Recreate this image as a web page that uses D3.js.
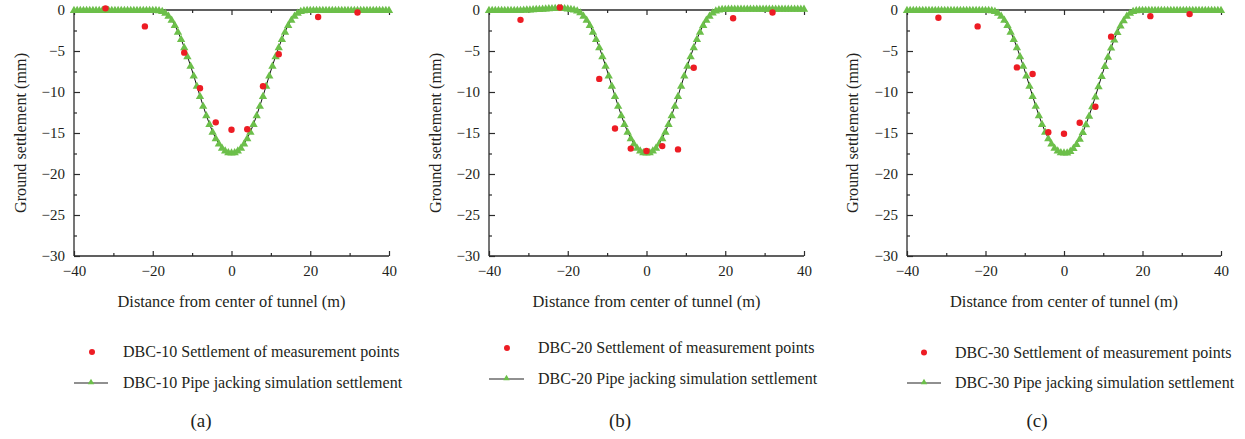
<!DOCTYPE html>
<html><head><meta charset="utf-8">
<script src="https://cdn.jsdelivr.net/npm/d3@7/dist/d3.min.js"></script>
<style>
html,body{margin:0;padding:0;background:#fff;}
svg{display:block;}
text{font-family:"Liberation Serif","Times New Roman",serif;fill:#231f20;}
</style></head>
<body>
<svg id="chart" width="1245" height="439"></svg>
<script>
// ---- data ----
const simX = [-40,-39.2,-38.4,-37.6,-36.8,-36,-35.2,-34.4,-33.6,-32.8,-32,-31.2,-30.4,-29.6,-28.8,-28,-27.2,-26.4,-25.6,-24.8,-24,-23.2,-22.4,-21.6,-20.8,-20,
  -19.2,-18.4,-17.6,-16.8,-16,-15.2,-14.4,-13.6,-12.8,-12,-11.2,-10.4,-9.6,-8.8,-8,-7.2,-6.4,-5.6,-4.8,-4,-3.2,-2.4,-1.6,-0.8,0,
  0.8,1.6,2.4,3.2,4,4.8,5.6,6.4,7.2,8,8.8,9.6,10.4,11.2,12,12.8,13.6,14.4,15.2,16,16.8,17.6,18.4,19.2,
  20,20.8,21.6,22.4,23.2,24,24.8,25.6,26.4,27.2,28,28.8,29.6,30.4,31.2,32,32.8,33.6,34.4,35.2,36,36.8,37.6,38.4,39.2,40];
const sim10 = [0,0,0,0,0,0,0,0,0,0,0,0,0,0,0,0,0,0,0,0,0,0,0,0,0,0,
  0,-0.03,-0.12,-0.35,-0.7,-1.2,-1.85,-2.65,-3.55,-4.55,-5.65,-6.8,-8.0,-9.25,-10.5,-11.7,-12.85,-13.9,-14.85,-15.65,-16.3,-16.8,-17.15,-17.35,-17.4,
  -17.35,-17.15,-16.8,-16.3,-15.65,-14.85,-13.9,-12.85,-11.7,-10.5,-9.25,-8.0,-6.8,-5.65,-4.55,-3.55,-2.65,-1.85,-1.2,-0.7,-0.35,-0.12,-0.03,0,
  0,0,0,0,0,0,0,0,0,0,0,0,0,0,0,0,0,0,0,0,0,0,0,0,0,0];
const sim20 = [0,0,0,0,0,0,0,0,0,0,0,0.02,0.04,0.06,0.08,0.1,0.12,0.15,0.18,0.2,0.22,0.24,0.25,0.25,0.22,0.18,
  0.12,0.04,-0.08,-0.3,-0.7,-1.2,-1.85,-2.65,-3.55,-4.55,-5.65,-6.8,-8.0,-9.25,-10.5,-11.7,-12.85,-13.9,-14.85,-15.65,-16.3,-16.8,-17.15,-17.35,-17.4,
  -17.35,-17.15,-16.8,-16.3,-15.65,-14.85,-13.9,-12.85,-11.7,-10.5,-9.25,-8.0,-6.8,-5.65,-4.55,-3.55,-2.65,-1.85,-1.2,-0.7,-0.32,-0.08,0.04,0.1,
  0.12,0.14,0.15,0.15,0.15,0.15,0.15,0.15,0.15,0.15,0.15,0.15,0.15,0.15,0.15,0.15,0.15,0.15,0.15,0.15,0.15,0.15,0.15,0.15,0.15,0.15];
const sim30 = [0,0,0,0,0,0,0,0,0,0,0,0,0,0,0,0,0,0,0,0,0,0,0,0,0,0,
  0,-0.03,-0.12,-0.35,-0.7,-1.2,-1.85,-2.65,-3.55,-4.55,-5.65,-6.8,-8.0,-9.25,-10.5,-11.7,-12.85,-13.9,-14.85,-15.65,-16.3,-16.8,-17.15,-17.35,-17.4,
  -17.4,-17.2,-16.85,-16.35,-15.7,-14.9,-13.95,-12.9,-11.75,-10.55,-9.3,-8.05,-6.85,-5.7,-4.6,-3.6,-2.7,-1.9,-1.25,-0.72,-0.36,-0.12,-0.03,0,
  0,0,0,0,0,0,0,0,0,0,0,0,0,0,0,0,0,0,0,0,0,0,0,0,0,0];
const measX = [-32,-22,-12,-8,-4,0,4,8,12,22,32];
const meas10 = [0.2,-2.0,-5.2,-9.55,-13.7,-14.6,-14.55,-9.3,-5.4,-0.85,-0.3];
const meas20 = [-1.2,0.3,-8.4,-14.45,-16.9,-17.2,-16.6,-17.0,-7.05,-1.0,-0.3];
const meas30 = [-0.95,-2.0,-7.0,-7.8,-14.9,-15.1,-13.75,-11.8,-3.25,-0.75,-0.5];
const xTickLabels = [-40,-20,0,20,40];
const xMinorTicks = [-30,-10,10,30];
const yTickLabels = [0,-5,-10,-15,-20,-25,-30];
const yMinorTicks = [-2.5,-7.5,-12.5,-17.5,-22.5,-27.5];
const panelNames = ["DBC-10","DBC-20","DBC-30"];
const captions = ["(a)","(b)","(c)"];
const xTitle = "Distance from center of tunnel (m)";
const yTitle = "Ground settlement (mm)";

// ---- layout ----
const layout = [
  {x0:74, x1:389, yLab:20, ly1:352, ly2:383, dotX:92, lx0:74, lx1:108, tx:123, capX:201},
  {x0:489, x1:804, yLab:435, ly1:348, ly2:379, dotX:507, lx0:489, lx1:524, tx:538, capX:620},
  {x0:907, x1:1221, yLab:852, ly1:352.5, ly2:383, dotX:924, lx0:907, lx1:941, tx:955, capX:1037}
];
const yTop = 10, yBot = 256;
const red = "#ed1c24", green = "#6cbf4a", axisCol = "#2b2b2b";
const fmt = v => (v < 0 ? "\u2212" + Math.abs(v) : String(v));

const svg = d3.select("#chart");
const sims = [sim10, sim20, sim30];
const meas = [meas10, meas20, meas30];
const tri = d3.symbol().type(d3.symbolTriangle).size(30);
const triSmall = d3.symbol().type(d3.symbolTriangle).size(18);

layout.forEach((L, i) => {
  const x = d3.scaleLinear().domain([-40, 40]).range([L.x0, L.x1]);
  const y = d3.scaleLinear().domain([-30, 0]).range([yBot, yTop]);
  const g = svg.append("g");

  // axes
  const axB = g.append("g").attr("transform", `translate(0,${yBot})`)
    .call(d3.axisBottom(x).tickValues(xTickLabels).tickSize(-5).tickPadding(9).tickFormat(fmt));
  g.append("g").attr("transform", `translate(0,${yBot})`)
    .call(d3.axisBottom(x).tickValues(xMinorTicks).tickSize(-3).tickFormat(""))
    .select(".domain").remove();
  const axT = g.append("g").attr("transform", `translate(0,${yTop})`)
    .call(d3.axisTop(x).tickValues(xTickLabels).tickSize(-5).tickFormat(""));
  g.append("g").attr("transform", `translate(0,${yTop})`)
    .call(d3.axisTop(x).tickValues(xMinorTicks).tickSize(-3).tickFormat(""))
    .select(".domain").remove();
  const axL = g.append("g").attr("transform", `translate(${L.x0},0)`)
    .call(d3.axisLeft(y).tickValues(yTickLabels).tickSize(-6).tickPadding(9).tickFormat(fmt));
  g.append("g").attr("transform", `translate(${L.x0},0)`)
    .call(d3.axisLeft(y).tickValues(yMinorTicks).tickSize(-3).tickFormat(""))
    .select(".domain").remove();
  g.selectAll(".domain").attr("stroke", axisCol).attr("stroke-width", 1.3);
  g.selectAll(".tick line").attr("stroke", axisCol).attr("stroke-width", 1.2);
  g.selectAll(".tick text").attr("font-family", "Liberation Serif, serif").attr("font-size", 15).attr("fill", "#231f20");
  axT.select(".domain").attr("d", `M${L.x0},0H${L.x1}`);
  axB.select(".domain").attr("d", `M${L.x0},0H${L.x1}`);
  axL.select(".domain").attr("d", `M0,${yTop}V${yBot}`);

  // simulation line + triangles
  const pts = simX.map((v, k) => [v, sims[i][k]]);
  g.append("path").datum(pts)
    .attr("fill", "none").attr("stroke", "#111").attr("stroke-width", 1)
    .attr("d", d3.line().x(d => x(d[0])).y(d => y(d[1])));
  g.selectAll("path.tri").data(pts).enter().append("path").attr("class", "tri")
    .attr("d", tri).attr("fill", green)
    .attr("transform", d => `translate(${x(d[0])},${y(d[1]) + 0.5})`);

  // measurement points
  g.selectAll("circle.m").data(measX.map((v, k) => [v, meas[i][k]])).enter()
    .append("circle").attr("class", "m")
    .attr("cx", d => x(d[0])).attr("cy", d => y(d[1])).attr("r", 3.2).attr("fill", red);

  // titles
  svg.append("text").attr("x", (L.x0 + L.x1) / 2).attr("y", 307)
    .attr("text-anchor", "middle").attr("font-size", 16.4).text(xTitle);
  svg.append("text").attr("transform", `translate(${L.yLab},${(yTop + yBot) / 2}) rotate(-90)`)
    .attr("text-anchor", "middle").attr("dy", "0.35em").attr("font-size", 16.2).text(yTitle);

  // legend
  svg.append("circle").attr("cx", L.dotX).attr("cy", L.ly1).attr("r", 3).attr("fill", red);
  svg.append("text").attr("x", L.tx).attr("y", L.ly1).attr("dy", "0.33em").attr("font-size", 16)
    .text(panelNames[i] + " Settlement of measurement points");
  svg.append("line").attr("x1", L.lx0).attr("x2", L.lx1).attr("y1", L.ly2).attr("y2", L.ly2)
    .attr("stroke", "#222").attr("stroke-width", 1.2);
  svg.append("path").attr("d", triSmall).attr("fill", green)
    .attr("transform", `translate(${(L.lx0 + L.lx1) / 2},${L.ly2 - 0.5})`);
  svg.append("text").attr("x", L.tx).attr("y", L.ly2).attr("dy", "0.33em").attr("font-size", 16)
    .text(panelNames[i] + " Pipe jacking simulation settlement");
  svg.append("text").attr("x", L.capX).attr("y", 420).attr("dy", "0.35em")
    .attr("text-anchor", "middle").attr("font-size", 19).text(captions[i]);
});
</script>
</body></html>
